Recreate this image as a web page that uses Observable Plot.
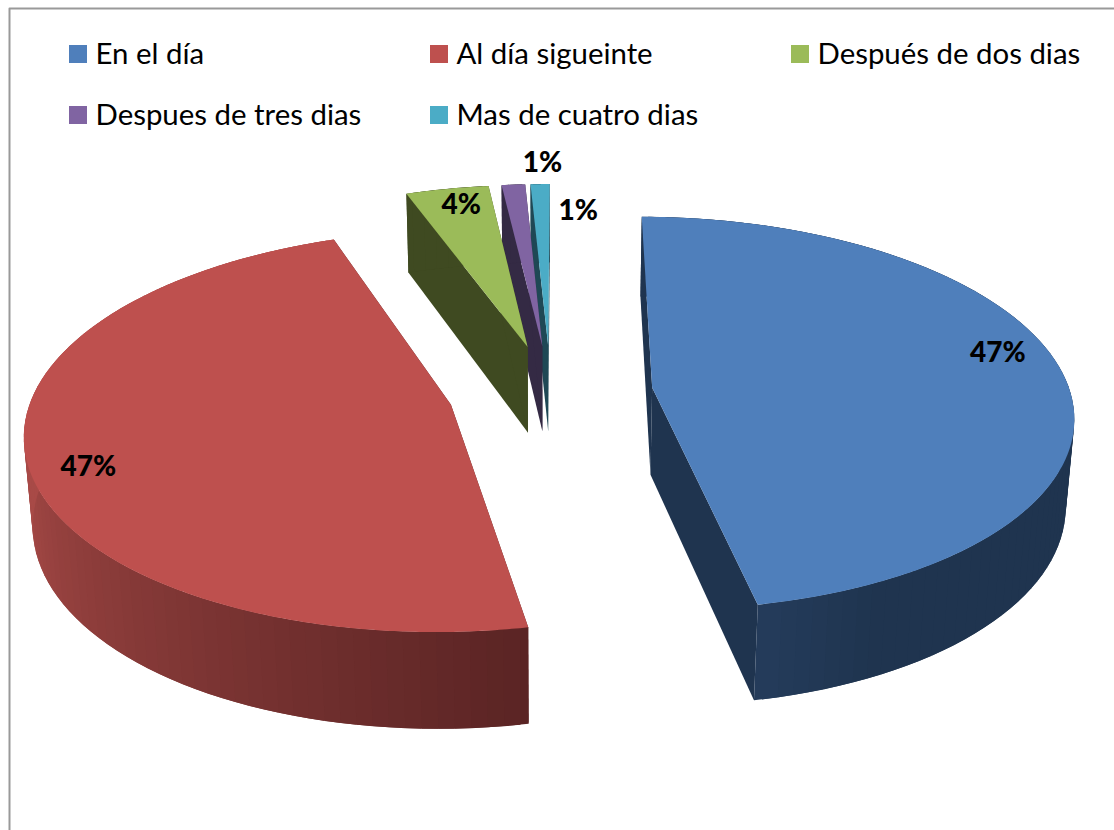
<!DOCTYPE html>
<html><head><meta charset="utf-8">
<script src="https://cdn.jsdelivr.net/npm/d3@7"></script>
<script src="https://cdn.jsdelivr.net/npm/@observablehq/plot@0.6"></script>
<style>html,body{margin:0;padding:0;background:#fff}svg{display:block}</style>
</head><body><div id="chart"></div>
<script>
const categories = ["En el día","Al día sigueinte","Después de dos dias","Despues de tres dias","Mas de cuatro dias"];
const shares = [46.9,47.5,3.7,1.05,0.85];
const percentLabels = ["47%","47%","4%","1%","1%"];
const topColors = ["#4f7fbb","#be504e","#9bbb59","#8064a2","#4bacc6"];
const cutColors = ["#1f344f","#5a2424","#3f4a21","#342a44","#1f4855"];
const wallStart = ["#1f344f","#5a2424","#3f4a21","#342a44","#1f4855"];
const wallEnd = ["#243b5a","#a84a47","#3f4a21","#342a44","#1f4855"];
// part of each rim over which its shade ramps
const rampFrom = [0.92,0,0,0,0];
const rampTo = [1,0.55,1,1,1];
// legend layout
const legendRow = [0,0,0,1,1];
const legendX = [69,430,791,69,430];
const legendTextX = [95,456,817,95,456];
const legendY = [45,106];
// label offsets from the middle of each slice's outer rim
const labelDX = [-63,62,14,29,38];
const labelDY = [-17,8,16,-22,27];

// 3D camera
const cam = {cx:550, cy:391.5, f:2842, D:6.8, tilt:27.67*Math.PI/180, h:0.24, explode:0.245, a0:0.2};
function project(X,Y,Z){
  const s=Math.sin(cam.tilt),c=Math.cos(cam.tilt);
  const yc=Y*s+Z*c, zc=Y*c-Z*s+cam.D;
  return [cam.cx+cam.f*X/zc, cam.cy-cam.f*yc/zc];
}
const total=d3.sum(shares);
const polys=[], labels=[];
let acc=cam.a0*Math.PI/180;
const order=[4,3,2,1,0];
const slices=shares.map((v,i)=>{
  const a0=acc, a1=acc+v/total*2*Math.PI; acc=a1;
  return {i,a0,a1,mid:(a0+a1)/2};
});
let pid=0;
function addPoly(pts,color){ const id=pid++; for(const p of pts) polys.push({x:p[0],y:p[1],id,color}); }
for(const k of order){
  const {i,a0,a1,mid}=slices[k];
  const ex=cam.explode*Math.sin(mid), ey=cam.explode*Math.cos(mid);
  const P=(a,r,z)=>project(ex+r*Math.sin(a),ey+r*Math.cos(a),z);
  // cut faces
  for(const a of [a0,a1]) addPoly([P(a,0,0),P(a,1,0),P(a,1,-cam.h),P(a,0,-cam.h)],cutColors[i]);
  // rim strips; each strip overlaps its neighbour to avoid seams
  const n=Math.max(4,Math.round((a1-a0)/(2*Math.PI/180)));
  const ramp=d3.scaleLinear([rampFrom[i],rampTo[i]],[0,1]).clamp(true);
  const shade=d3.interpolateRgb(wallStart[i],wallEnd[i]);
  const step=(a1-a0)/n;
  const strips=d3.range(n).map(j=>({a:a0+step*j,b:a0+step*(j+1),t:j/Math.max(1,n-1)}));
  for(const s of strips){
    const b2=Math.min(a1,s.b+step*0.5), a2=Math.max(a0,s.a-step*0.5);
    addPoly([P(a2,1,0),P(b2,1,0),P(b2,1,-cam.h),P(a2,1,-cam.h)],shade(ramp(s.t)));
  }
  // top
  const top=[P(a0,0,0)];
  for(let j=0;j<=n*4;j++) top.push(P(a0+(a1-a0)*j/(n*4),1,0));
  addPoly(top,topColors[i]);
  const m=P(mid,1,0);
  labels.push({x:m[0]+labelDX[i],y:m[1]+labelDY[i],t:percentLabels[i]});
}
const legend=categories.map((c,i)=>({c,x:legendX[i],tx:legendTextX[i],y:legendY[legendRow[i]],color:topColors[i]}));

const chart=Plot.plot({
  width:1114,height:830,margin:0,
  x:{domain:[0,1114],range:[0,1114],axis:null},
  y:{domain:[0,830],range:[0,830],axis:null},
  color:{type:"identity"},
  marks:[
    Plot.line([{x:9,y:830},{x:9,y:8},{x:1114,y:8}],{x:"x",y:"y",stroke:"#999",strokeWidth:2}),
    Plot.line(polys,{x:"x",y:"y",z:"id",fill:"color",curve:"linear",stroke:"none"}),
    Plot.text(labels,{x:"x",y:"y",text:"t",fontFamily:"Lato",fontWeight:900,fontSize:28,fill:"#000"}),
    Plot.rect(legend,{x1:"x",x2:d=>d.x+18,y1:"y",y2:d=>d.y+18,fill:"color"}),
    Plot.text(legend,{x:"tx",y:d=>d.y+9,text:"c",textAnchor:"start",fontFamily:"Lato",fontSize:29.4,fill:"#000"})
  ]
});
document.getElementById("chart").append(chart);
</script></body></html>
